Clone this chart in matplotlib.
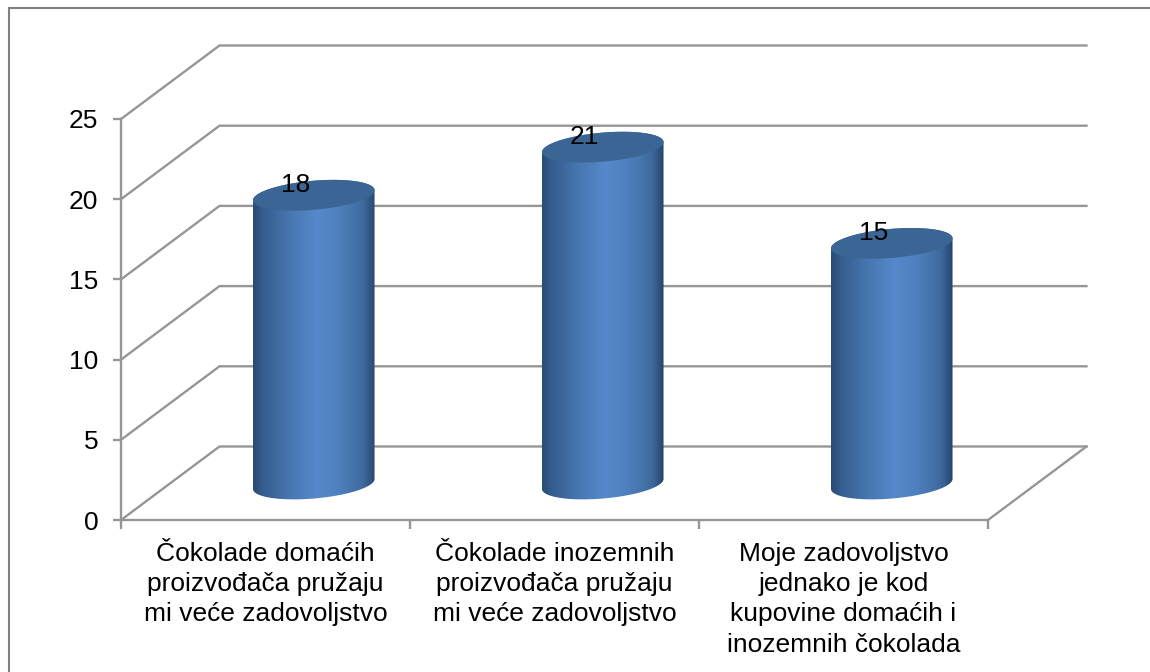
import numpy as np
import matplotlib
matplotlib.use("Agg")
import matplotlib.pyplot as plt
from matplotlib.lines import Line2D
from matplotlib.patches import Polygon
from matplotlib.colors import LinearSegmentedColormap

categories = ["Čokolade domaćih\nproizvođača pružaju\nmi veće zadovoljstvo",
              "Čokolade inozemnih\nproizvođača pružaju\nmi veće zadovoljstvo",
              "Moje zadovoljstvo\njednako je kod\nkupovine domaćih i\ninozemnih čokolada"]
values = [18, 21, 15]
yticks = [0, 5, 10, 15, 20, 25]

W, H = 1150, 672
AX_L, AX_R, AX_T, AX_B = 121, 988, 119, 520
GRAY = "#969696"
LW = 1.7

plt.rcParams['font.family'] = ['Liberation Sans', 'DejaVu Sans']
fig = plt.figure(figsize=(W / 100, H / 100), dpi=100, facecolor="white")
ax = fig.add_axes([AX_L / W, 1 - AX_B / H, (AX_R - AX_L) / W, (AX_B - AX_T) / H])
ax.set_xlim(0, len(categories))
ax.set_ylim(0, 25)
ax.patch.set_visible(False)
for s in ("top", "right"):
    ax.spines[s].set_visible(False)
for s in ("left", "bottom"):
    ax.spines[s].set_color(GRAY)
    ax.spines[s].set_linewidth(LW)

ax.set_yticks(yticks)
ax.set_xticks(range(len(categories) + 1))
ax.set_xticklabels([])
ax.set_xticks(np.arange(len(categories)) + 0.5, minor=True)
ax.set_xticklabels(categories, minor=True, fontsize=19, linespacing=1.335)
ax.tick_params(axis="y", length=5.8, width=LW, color=GRAY, labelsize=19, pad=10.5, labelcolor="black")
ax.tick_params(axis="x", which="major", length=6.2, width=LW, color=GRAY)
ax.tick_params(axis="x", which="minor", length=0, pad=15.5, labelcolor="black")

# 3D depth expressed in axis units
sx = (AX_R - AX_L) / len(categories)   # px per category
sy = (AX_B - AX_T) / 25                # px per value
depth_x = 98.5 / sx
depth_y = 73.5 / sy

# walls
for v in yticks:
    ax.plot([0, depth_x, len(categories) + depth_x], [v, v + depth_y, v + depth_y],
            color=GRAY, lw=LW, clip_on=False, zorder=1, solid_joinstyle="miter")
ax.plot([len(categories), len(categories) + depth_x], [0, depth_y],
        color=GRAY, lw=LW, clip_on=False, zorder=1)

# cylinders
cmap = LinearSegmentedColormap.from_list("cyl", [
    (0.0, "#2a4b75"), (0.08, "#355d8f"), (0.30, "#4776b0"), (0.52, "#5688cb"),
    (0.70, "#4f80bd"), (0.90, "#3f6a9e"), (1.0, "#26456c")])
half_w = 61 / sx
half_h = 14.5
tilt = np.deg2rad(5)
depth_frac = 0.49
base = depth_frac * depth_y
grad = np.linspace(0, 1, 256)[None, :]


def ellipse(cx, cy, t):
    px = 61 * np.cos(t) * np.cos(tilt) - half_h * np.sin(t) * np.sin(tilt)
    py = 61 * np.cos(t) * np.sin(tilt) + half_h * np.sin(t) * np.cos(tilt)
    return cx + px / sx, cy + py / sy


for i, val in enumerate(values):
    cx = i + 0.5 + depth_frac * depth_x
    top = base + val
    t_up = np.linspace(0, np.pi, 60)
    t_low = np.linspace(np.pi, 2 * np.pi, 60)
    xu, yu = ellipse(cx, top, t_up)
    xl, yl = ellipse(cx, base, t_low)
    body = np.column_stack([np.r_[xu, xl], np.r_[yu, yl]])
    img = ax.imshow(grad, cmap=cmap, aspect="auto", zorder=3,
                    extent=(cx - half_w, cx + half_w, base - 2, top + 2), interpolation="bilinear")
    poly = Polygon(body, closed=True, transform=ax.transData, facecolor="none", edgecolor="none")
    ax.add_patch(poly)
    img.set_clip_path(poly)
    t_all = np.linspace(0, 2 * np.pi, 120)
    xt, yt = ellipse(cx, top, t_all)
    ax.fill(xt, yt, color="#3b6594", lw=0, zorder=4, clip_on=False)
    ax.annotate(str(val), (cx, top), xytext=(-18 * 0.72, 10.5 * 0.72), textcoords="offset points",
                ha="center", va="center", fontsize=19, color="black", zorder=5, annotation_clip=False)

ax.set_xlim(0, len(categories))
ax.set_ylim(0, 25)

# outer frame, open at the right and bottom edges of the picture
fig.add_artist(Line2D([9 / W, 9 / W, 1], [0, 1 - 8 / H, 1 - 8 / H], color="#808080", lw=1.5,
                      transform=fig.transFigure, solid_joinstyle="miter"))

fig.savefig("out.png", dpi=100, facecolor="white")
